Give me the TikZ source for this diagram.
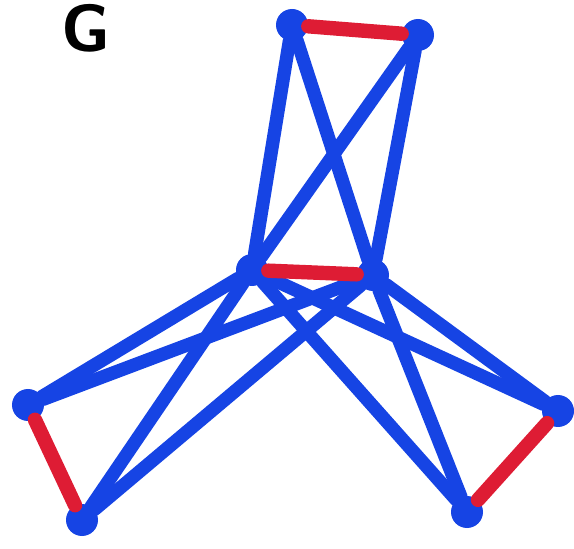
\documentclass[tikz,border=0pt]{standalone}
\usepackage{tikz}
\usetikzlibrary{positioning}
\definecolor{penblue}{RGB}{22,68,228}
\definecolor{penred}{RGB}{222,28,52}

\begin{document}
\begin{tikzpicture}[
  vertex/.style={circle, fill=penblue, inner sep=0pt, minimum size=0.64cm},
  blueedge/.style={draw=penblue, line width=7.6pt, line cap=round},
  rededge/.style={draw=penred, line width=8.2pt, line cap=round}
]
\useasboundingbox (0,0) rectangle (11.48,10.96);
\node[font=\fontsize{38}{38}\selectfont\bfseries\sffamily] (title) at (1.72,10.4) {G};

% vertices
\node[vertex] (topl) at (5.84,10.46) {};
\node[vertex] (topr) at (8.36,10.26) {};
\node[vertex] (midl) at (5.04,5.56) {};
\node[vertex] (midr) at (7.46,5.46) {};
\node[vertex] (lefta) at (0.56,2.86) {};
\node[vertex] (leftb) at (1.64,0.56) {};
\node[vertex] (rightb) at (9.34,0.72) {};
\node[vertex] (righta) at (11.16,2.74) {};

% blue edges
\draw[blueedge] (topl) -- (midl);
\draw[blueedge] (topl) -- (midr);
\draw[blueedge] (topr) -- (midl);
\draw[blueedge] (topr) -- (midr);
\draw[blueedge] (midl) -- (lefta);
\draw[blueedge] (midl) -- (leftb);
\draw[blueedge] (midr) -- (lefta);
\draw[blueedge] (midr) -- (leftb);
\draw[blueedge] (midl) -- (rightb);
\draw[blueedge] (midl) -- (righta);
\draw[blueedge] (midr) -- (rightb);
\draw[blueedge] (midr) -- (righta);

% red edges
\draw[rededge] (topl) -- (topr);
\draw[rededge] (midl) -- (midr);
\draw[rededge] (lefta) -- (leftb);
\draw[rededge] (rightb) -- (righta);
\end{tikzpicture}
\end{document}
